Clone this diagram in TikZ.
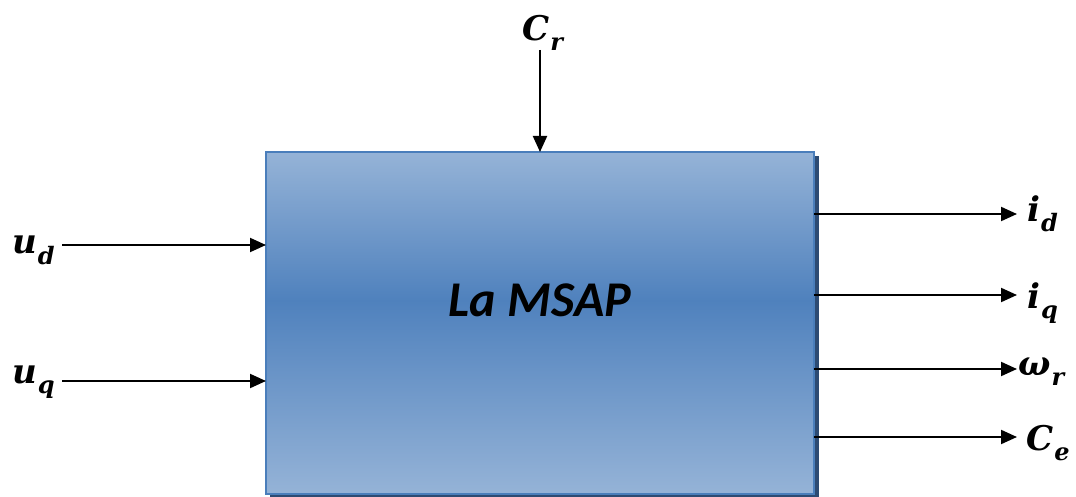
\documentclass[tikz,border=0pt]{standalone}
\usepackage{fontspec}
\newfontfamily\boxfont{Carlito}
\newfontfamily\symfont{DejaVu Serif}
\usetikzlibrary{arrows.meta}
\definecolor{blueTop}{RGB}{149,179,215}
\definecolor{blueMid}{RGB}{79,129,189}
\definecolor{blueEdge}{RGB}{74,126,187}
\definecolor{blueShadow}{RGB}{45,75,115}
% bold italic symbol with a lowered index
\newcommand{\sigsym}[2]{{\symfont\bfseries\itshape\fontsize{34}{40}\selectfont #1\kern1pt\raisebox{-10pt}{\fontsize{24}{28}\selectfont #2}}}
\tikzset{
  sig/.style={line width=2pt,-{Triangle[length=16pt,width=14pt]}},
  lbl/.style={inner sep=0pt,anchor=base west},
}
\begin{document}
\begin{tikzpicture}[x=1pt,y=-1pt]
\useasboundingbox (0,0) rectangle (1076,497);
% drop shadow of the block
\fill[blueShadow] (270,156) rectangle (819,497);
% machine block with vertical gradient
\path[top color=blueTop,bottom color=blueMid] (266,152) rectangle (814,300.5);
\path[top color=blueMid,bottom color=blueTop] (266,300) rectangle (814,494);
\draw[blueEdge,line width=2pt] (266,152) rectangle (814,494);
\node[inner sep=0pt,font=\boxfont\bfseries\itshape\fontsize{50}{56}\selectfont] (msap) at (540,300) {La MSAP};
% inputs
\node[lbl] (ud) at (12,254) {\sigsym{u}{d}};
\node[lbl] (uq) at (12,383) {\sigsym{u}{q}};
\node[lbl] (cr) at (522,41) {\sigsym{C}{r}};
\coordinate (uds) at (62,245);
\coordinate (uqs) at (62,381);
\coordinate (crs) at (540,50);
\coordinate (udin) at (266,245);
\coordinate (uqin) at (266,381);
\coordinate (crin) at (540,152);
\draw[sig] (uds) -- (udin);
\draw[sig] (uqs) -- (uqin);
\draw[sig] (crs) -- (crin);
% outputs
\node[lbl] (id) at (1027,222) {\sigsym{i}{d}};
\node[lbl] (iq) at (1027,308) {\sigsym{i}{q}};
\node[lbl] (wr) at (1018,375) {\sigsym{ω}{r}};
\node[lbl] (ce) at (1026,450) {\sigsym{C}{e}};
\coordinate (ido) at (814,214);
\coordinate (iqo) at (814,295);
\coordinate (wro) at (814,369);
\coordinate (ceo) at (814,437);
\coordinate (ide) at (1017,214);
\coordinate (iqe) at (1017,295);
\coordinate (wre) at (1017,369);
\coordinate (cee) at (1017,437);
\draw[sig] (ido) -- (ide);
\draw[sig] (iqo) -- (iqe);
\draw[sig] (wro) -- (wre);
\draw[sig] (ceo) -- (cee);
\end{tikzpicture}
\end{document}
